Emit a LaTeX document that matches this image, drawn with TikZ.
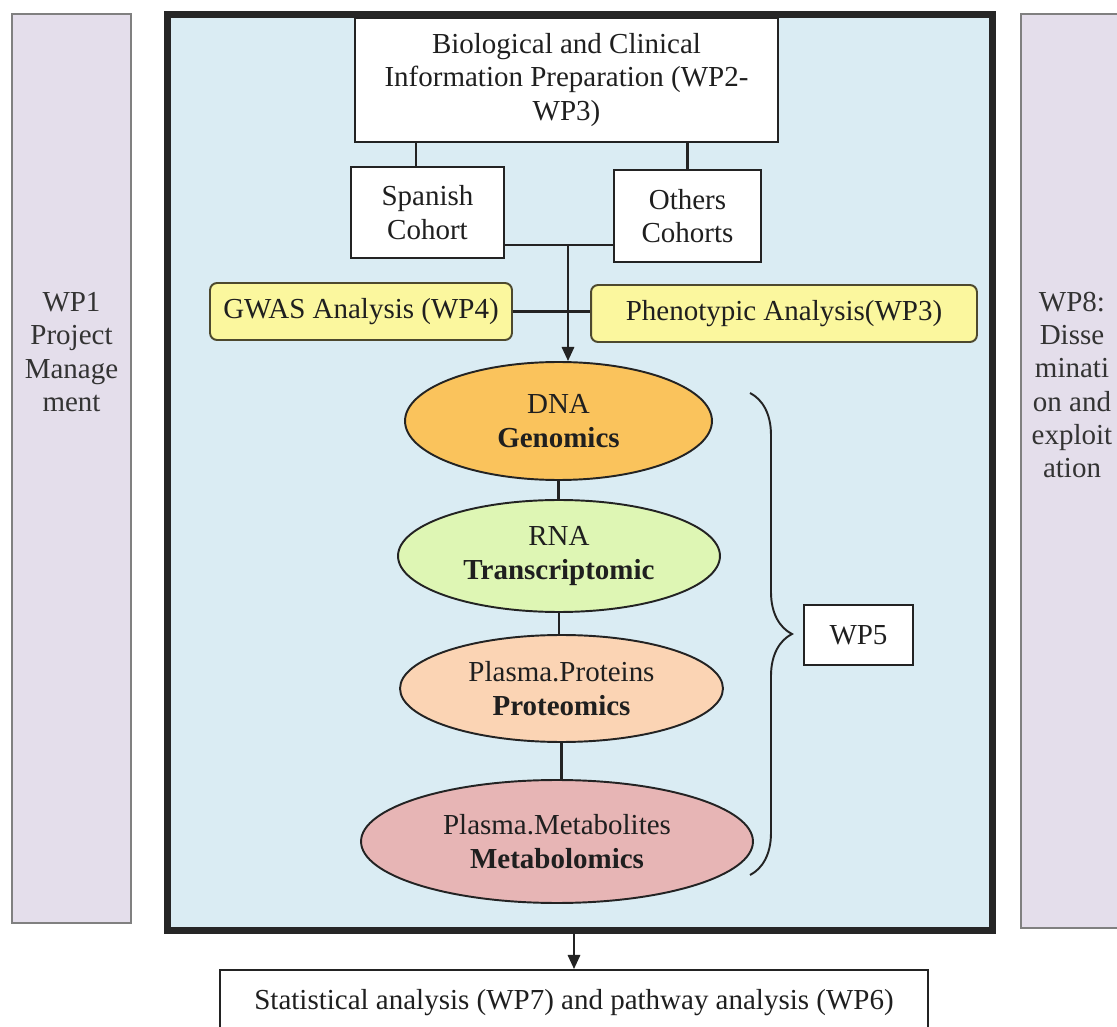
\documentclass[tikz,border=0pt]{standalone}
\usepackage{fontspec}
\setmainfont{Liberation Serif}[BoldFont={Liberation Serif Bold}]
\usetikzlibrary{shapes.geometric,arrows.meta,decorations.pathreplacing,shadows}

\definecolor{framefill}{RGB}{218,236,243}
\definecolor{panelfill}{RGB}{228,222,235}
\definecolor{gwasfill}{RGB}{251,247,158}
\definecolor{dnafill}{RGB}{250,195,92}
\definecolor{rnafill}{RGB}{222,246,180}
\definecolor{protfill}{RGB}{251,212,180}
\definecolor{metafill}{RGB}{231,181,181}
\definecolor{inkgray}{RGB}{35,35,35}

\tikzstyle{panel} = [draw=gray, fill=panelfill, line width=1pt, inner sep=0pt]
\tikzstyle{paneltext} = [align=center, text=black!80]
\tikzstyle{box} = [rectangle, draw=inkgray, fill=white, line width=1.1pt, align=center, inner sep=0pt]
\tikzstyle{analysis} = [rectangle, rounded corners=4pt, draw=black!60!olive, fill=gwasfill, line width=1.1pt, inner sep=0pt]
\tikzstyle{omics} = [ellipse, draw=inkgray, line width=1.1pt, align=center, inner sep=0pt]
\tikzstyle{link} = [draw=inkgray, line width=1.3pt]

\begin{document}
\begin{tikzpicture}[x=0.02cm, y=-0.02cm, font=\fontsize{16.5}{19}\selectfont, text=black!88]
\useasboundingbox (0,0) rectangle (1117,1027);

% side panels
\node[panel, minimum width=2.38cm, minimum height=18.18cm] (wp1) at (71.5,468.5) {};
\node[paneltext] (wp1text) at (71.5,352) {WP1\\Project\\Manage\\ment};
\node[panel, minimum width=2.06cm, minimum height=18.28cm] (wp8) at (1072.5,471) {};
\node[paneltext] (wp8text) at (1072,385) {WP8:\\Disse\\minati\\on and\\exploit\\ation};

% main frame
\node[draw=black!85, line width=4pt, fill=framefill, minimum width=16.52cm, minimum height=18.34cm,
  drop shadow={shadow xshift=2pt, shadow yshift=-2pt, fill=black!30}] (frame) at (580,472.5) {};

% cohorts
\node[box, minimum width=8.46cm, minimum height=2.48cm] (bio) at (566.5,80) {Biological and Clinical\\Information Preparation (WP2-\\WP3)};
\node[box, minimum width=3.06cm, minimum height=1.82cm] (spanish) at (427.5,212.5) {Spanish\\Cohort};
\node[box, minimum width=2.94cm, minimum height=1.84cm] (others) at (687.5,216) {Others\\Cohorts};

\node[analysis, minimum width=6.04cm, minimum height=1.14cm] (gwas) at (361,311.5) {GWAS Analysis (WP4)};
\node[analysis, minimum width=7.72cm, minimum height=1.14cm] (pheno) at (784,313.5) {Phenotypic Analysis(WP3)};

% omics
\node[omics, fill=dnafill, minimum width=6.14cm, minimum height=2.36cm] (dna) at (558.5,421) {DNA\\\textbf{Genomics}};
\node[omics, fill=rnafill, minimum width=6.44cm, minimum height=2.24cm] (rna) at (559,556) {RNA\\\textbf{Transcriptomic}};
\node[omics, fill=protfill, minimum width=6.46cm, minimum height=2.14cm] (prot) at (561.5,688.5) {Plasma.Proteins\\\textbf{Proteomics}};
\node[omics, fill=metafill, minimum width=7.84cm, minimum height=2.46cm] (meta) at (557,841.5) {Plasma.Metabolites\\\textbf{Metabolomics}};

\node[box, minimum width=2.18cm, minimum height=1.2cm] (wp5) at (858.5,635) {WP5};
\node[box, minimum width=14.16cm, minimum height=1.32cm] (stats) at (574,1003) {Statistical analysis (WP7) and pathway analysis (WP6)};

% connectors
\coordinate (join) at (568,245);
\draw[link] ([xshift=-0.23cm]spanish.north) -- ([xshift=-0.23cm]spanish.north |- bio.south);
\draw[link] (others.north) -- (others.north |- bio.south);
\draw[link] (join -| spanish.east) -- (join -| others.west);
\draw[link] (gwas.east) -- (gwas.east -| pheno.west);
\draw[link, -{Triangle[length=8pt,width=7pt]}] (join) -- (join |- dna.north);

\draw[link] (dna.south) -- (dna.south |- rna.north);
\draw[link] (rna.south) -- (rna.south |- prot.north);
\draw[link] (prot.south) -- (prot.south |- meta.north);

\coordinate (bracetop) at (750,393);
\coordinate (bracebot) at (750,875);
\draw[link, line width=1.1pt, decorate, decoration={brace, amplitude=0.84cm}] (bracetop) -- (bracebot);

\draw[link, -{Triangle[length=8pt,width=7pt]}] (stats.north |- frame.south) -- (stats.north);
\end{tikzpicture}
\end{document}
